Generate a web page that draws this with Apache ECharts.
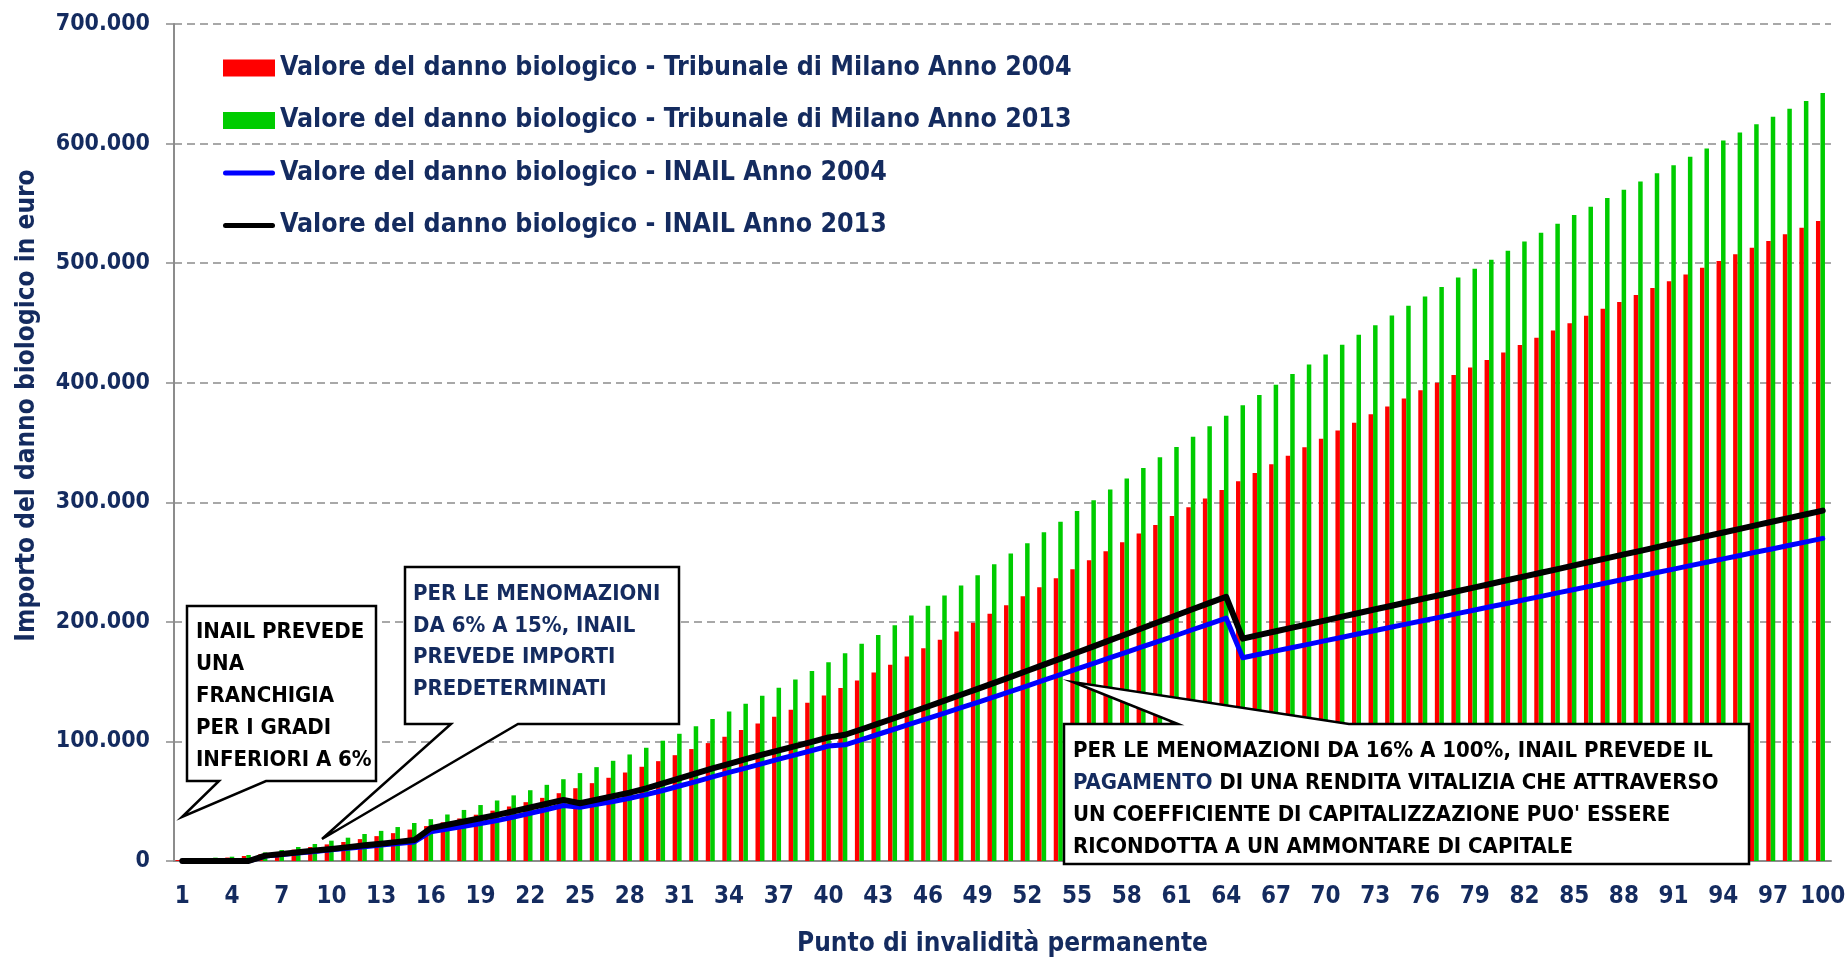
<!DOCTYPE html>
<html>
<head>
<meta charset="utf-8">
<script src="https://cdn.jsdelivr.net/npm/echarts@6/dist/echarts.min.js"></script>
<style>
  html, body { margin: 0; padding: 0; background: #fff; }
  #chart { width: 1845px; height: 957px; }
</style>
</head>
<body>
<div id="chart"></div>
<script>
// punti di invalidità 1..100
var punti = [];
for (var i = 1; i <= 100; i++) punti.push(String(i));

// Tribunale di Milano 2004 (euro)
var milano2004 = [
  800, 1600, 2300, 2900, 4200, 5800, 7500, 9500, 11700, 13900,
  15900, 18300, 20800, 23300, 26300, 29200, 32400, 35600, 38700, 42100,
  45600, 49200, 52800, 56700, 60900, 65100, 69600, 74000, 78800, 83500,
  88500, 93600, 98600, 103900, 109500, 115000, 120600, 126500, 132300, 138400,
  144600, 151000, 157700, 164100, 171000, 178000, 185000, 191900, 199200, 206700,
  213900, 221400, 229000, 236500, 244000, 251500, 259100, 266600, 273800, 281100,
  288600, 295800, 303100, 310300, 317500, 324500, 331800, 339000, 346000, 353100,
  360100, 366600, 373600, 380200, 386900, 393600, 400000, 406400, 412800, 418900,
  425300, 431500, 437600, 443700, 449800, 455900, 461800, 467600, 473400, 479300,
  484800, 490400, 496200, 501800, 507400, 512900, 518500, 524100, 529600, 535200
];

// Tribunale di Milano 2013 (euro)
var milano2013 = [
  1000, 1900, 2800, 3600, 5000, 7200, 9200, 11700, 14200, 17000,
  19500, 22600, 25200, 28400, 31800, 35000, 38900, 42700, 46800, 50600,
  54900, 59200, 63700, 68400, 73500, 78500, 83800, 89100, 94700, 100600,
  106400, 112600, 118700, 125100, 131500, 138200, 144800, 151800, 158800, 166300,
  173800, 181600, 189100, 197200, 205300, 213400, 222000, 230400, 239000, 248200,
  257100, 265700, 274900, 283800, 292800, 301700, 310600, 319800, 328700, 337600,
  346200, 354900, 363500, 372400, 381100, 389700, 398300, 407200, 415300, 423500,
  431700, 440100, 448100, 456200, 464300, 472000, 480100, 487900, 495400, 502900,
  510400, 518000, 525500, 533000, 540200, 547100, 554400, 561300, 568300, 575200,
  581900, 588900, 595800, 602500, 609200, 616100, 622500, 629200, 635600, 642300
];

// INAIL 2004 (euro)
var inail2004 = [
  0, 0, 0, 0, 0, 4100, 5400, 6700, 8000, 9300,
  10600, 12000, 13300, 14600, 15900, 24500, 26800, 29100, 31400, 33800,
  36800, 39900, 43100, 46400, 45000, 47400, 49800, 52500, 55500, 59000,
  62700, 66400, 70400, 74100, 77700, 81400, 85200, 88800, 92400, 96200,
  97200, 101600, 106000, 110400, 114800, 119200, 123700, 128200, 132700, 137300,
  141900, 146500, 151200, 155900, 160600, 165300, 170000, 174700, 179400, 184100,
  188800, 193600, 198300, 203100, 170000, 172900, 175700, 178600, 181400, 184300,
  187100, 190000, 192800, 195700, 198500, 201400, 204200, 207100, 209900, 212800,
  215600, 218500, 221300, 224200, 227000, 229900, 232700, 235600, 238400, 241300,
  244100, 247000, 249800, 252700, 255500, 258400, 261200, 264100, 266900, 269800
];

// INAIL 2013 (euro)
var inail2013 = [
  0, 0, 0, 0, 0, 4500, 5900, 7300, 8700, 10100,
  11600, 13100, 14500, 16000, 17500, 27500, 30300, 33000, 35800, 38600,
  41600, 44700, 47900, 51100, 48300, 51200, 54200, 57200, 60800, 64900,
  69100, 73300, 77400, 81300, 85200, 88900, 92600, 96100, 99600, 103400,
  105600, 110200, 114900, 119600, 124400, 129200, 134100, 139000, 144000, 149000,
  154000, 159100, 164200, 169300, 174400, 179500, 184700, 189900, 195100, 200300,
  205500, 210700, 215900, 221000, 186000, 189100, 192100, 195200, 198200, 201300,
  204400, 207400, 210500, 213500, 216600, 219700, 222700, 225800, 228800, 231900,
  235000, 238000, 241100, 244100, 247200, 250300, 253300, 256400, 259400, 262500,
  265600, 268600, 271700, 274700, 277800, 280900, 283900, 287000, 290000, 293000
];

var nomi = [
  'Valore del danno biologico - Tribunale di Milano Anno 2004',
  'Valore del danno biologico - Tribunale di Milano Anno 2013',
  'Valore del danno biologico - INAIL Anno 2004',
  'Valore del danno biologico - INAIL Anno 2013'
];

var FONT = "'Liberation Sans Narrow', 'DejaVu Sans Condensed', 'Noto Sans', sans-serif";
var NAVY = '#142B5F';
// icona a linea spessa per la legenda
var LINEA = 'path://M2.5,0 L49.5,0 A2.5,2.5 0 0 1 49.5,5 L2.5,5 A2.5,2.5 0 0 1 2.5,0 Z';

function euro(v) {
  return String(v).replace(/\B(?=(\d{3})+(?!\d))/g, '.');
}

// riquadro di commento con la punta (un solo poligono)
function callout(points, lines, left, top, color, lineHeight) {
  var font = 'bold 22px ' + FONT;
  return {
    type: 'group',
    z: 100,
    children: [{
      type: 'polygon',
      shape: { points: points },
      style: { fill: '#fff', stroke: '#000', lineWidth: 2.5 },
      z: 100
    }, {
      type: 'text',
      x: left,
      y: top,
      z: 101,
      style: {
        text: lines.join('\n'),
        fill: color,
        font: font,
        lineHeight: lineHeight,
        rich: {
          b: { fill: NAVY, font: font, lineHeight: lineHeight }
        }
      }
    }]
  };
}

var chart = echarts.init(document.getElementById('chart'));

var option = {
  backgroundColor: '#fff',
  animation: false,
  grid: { left: 174, right: 14, top: 24, bottom: 96, containLabel: false, outerBoundsMode: 'none' },
  legend: {
    orient: 'vertical',
    left: 218,
    top: 48,
    itemWidth: 52,
    itemHeight: 17,
    itemGap: 22.5,
    symbolKeepAspect: true,
    textStyle: { fontFamily: FONT, fontSize: 26.5, fontWeight: 'bold', color: NAVY, lineHeight: 30 },
    data: [
      { name: nomi[0], icon: 'rect' },
      { name: nomi[1], icon: 'rect' },
      { name: nomi[2], icon: LINEA },
      { name: nomi[3], icon: LINEA }
    ]
  },
  xAxis: {
    type: 'category',
    data: punti,
    name: 'Punto di invalidità permanente',
    nameLocation: 'middle',
    nameGap: 70,
    nameTextStyle: { fontFamily: FONT, fontSize: 26, fontWeight: 'bold', color: NAVY },
    axisLine: { lineStyle: { color: '#8C8C8C', width: 2 } },
    axisTick: { interval: 0, length: 8, lineStyle: { color: '#8C8C8C', width: 1.5 } },
    axisLabel: { interval: 2, margin: 24, fontFamily: FONT, fontSize: 24, fontWeight: 'bold', color: NAVY },
    splitLine: { show: false }
  },
  yAxis: {
    type: 'value',
    min: 0,
    max: 700000,
    interval: 100000,
    name: 'Importo del danno biologico in euro',
    nameLocation: 'middle',
    nameGap: 134,
    nameTextStyle: { fontFamily: FONT, fontSize: 26, fontWeight: 'bold', color: NAVY, padding: [0, 0, 0, 74] },
    axisLine: { show: true, lineStyle: { color: '#8C8C8C', width: 2 } },
    axisTick: { show: true, length: 8, lineStyle: { color: '#8C8C8C', width: 1.5 } },
    axisLabel: { margin: 24, fontFamily: FONT, fontSize: 23, fontWeight: 'bold', color: NAVY, formatter: euro },
    splitLine: { lineStyle: { color: '#8C8C8C', width: 1.5, type: [8, 5] } }
  },
  series: [
    {
      name: nomi[0], type: 'bar', data: milano2004,
      barWidth: 4.5, barGap: '0%',
      itemStyle: { color: '#FF0000' }
    },
    {
      name: nomi[1], type: 'bar', data: milano2013,
      barWidth: 4.5, barGap: '0%',
      itemStyle: { color: '#00CC00' }
    },
    {
      // posto vuoto nel gruppo, come nel grafico originale
      name: '', type: 'bar', data: [], barWidth: 4.5, barGap: '0%', silent: true
    },
    {
      name: nomi[2], type: 'line', data: inail2004,
      symbol: 'none', z: 5,
      lineStyle: { color: '#0000FF', width: 5, cap: 'round', join: 'round' },
      itemStyle: { color: '#0000FF' }
    },
    {
      name: nomi[3], type: 'line', data: inail2013,
      symbol: 'none', z: 6,
      lineStyle: { color: '#000000', width: 6, cap: 'round', join: 'round' },
      itemStyle: { color: '#000000' }
    }
  ],
  graphic: [
    callout(
      [[187, 606], [376, 606], [376, 781], [266, 781], [182, 817], [219, 781], [187, 781]],
      ['INAIL PREVEDE', 'UNA', 'FRANCHIGIA', 'PER I GRADI', 'INFERIORI A 6%'],
      196, 616, '#000', 32
    ),
    callout(
      [[405, 567], [679, 567], [679, 724], [518, 724], [322, 839], [451, 724], [405, 724]],
      ['PER LE MENOMAZIONI', 'DA 6% A 15%, INAIL', 'PREVEDE IMPORTI', 'PREDETERMINATI'],
      413, 579, NAVY, 31.5
    ),
    callout(
      [[1064, 724], [1178, 724], [1073, 682], [1349, 724], [1749, 724], [1749, 864], [1064, 864]],
      ['PER LE MENOMAZIONI DA 16% A 100%, INAIL PREVEDE IL',
       '{b|PAGAMENTO} DI UNA RENDITA VITALIZIA CHE ATTRAVERSO',
       'UN COEFFICIENTE DI CAPITALIZZAZIONE PUO\' ESSERE',
       'RICONDOTTA A UN AMMONTARE DI CAPITALE'],
      1073, 735, '#000', 32
    )
  ]
};

chart.setOption(option);
</script>
</body>
</html>
